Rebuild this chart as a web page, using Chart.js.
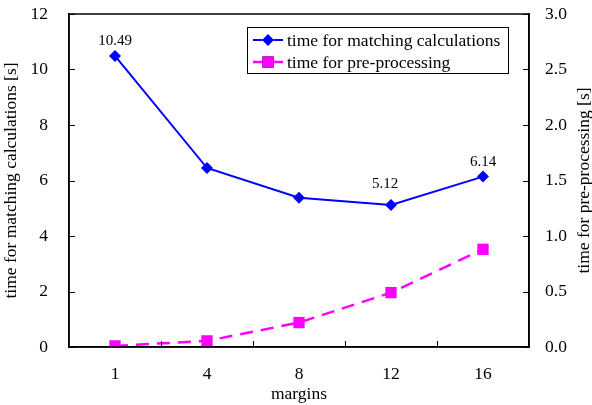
<!DOCTYPE html>
<html>
<head>
<meta charset="utf-8">
<title>margins</title>
<script src="https://cdn.jsdelivr.net/npm/chart.js@4.4.1/dist/chart.umd.min.js"></script>
<style>
  html, body { margin: 0; padding: 0; background: #fff; }
  .chart-wrapper { position: relative; width: 592px; height: 405px; }
</style>
</head>
<body>
<div class="chart-wrapper">
  <canvas id="myChart"></canvas>
</div>
<script>
// data
const margins = ['1', '4', '8', '12', '16'];
const matchTime = [10.49, 6.45, 5.38, 5.12, 6.14];
const preTime = [0.01, 0.055, 0.22, 0.49, 0.88];
const labelled = [true, false, false, true, true]; // points with value text
const rightTitle = 'time for pre-processing [s]';

const SERIF = '"Liberation Serif", "Times New Roman", serif';
const FS = 17.5;

// frame, inner tick marks, value labels, right title and the boxed legend
const extras = {
  id: 'extras',
  afterDraw(chart) {
    const ctx = chart.ctx;
    const a = chart.chartArea;
    ctx.save();
    ctx.strokeStyle = '#000';
    ctx.lineWidth = 1.5;
    ctx.strokeRect(a.left, a.top, a.right - a.left, a.bottom - a.top);

    ctx.lineWidth = 1;
    const tl = 6;
    const y = chart.scales.y, y1 = chart.scales.y1;
    ctx.beginPath();
    y.ticks.forEach((t, i) => {
      const p = Math.round(y.getPixelForTick(i)) + 0.5;
      ctx.moveTo(a.left, p); ctx.lineTo(a.left + tl, p);
    });
    y1.ticks.forEach((t, i) => {
      const p = Math.round(y1.getPixelForTick(i)) + 0.5;
      ctx.moveTo(a.right, p); ctx.lineTo(a.right - tl, p);
    });
    // category boundaries on the x axis
    const step = (a.right - a.left) / margins.length;
    for (let i = 1; i < margins.length; i++) {
      const p = Math.round(a.left + step * i) + 0.5;
      ctx.moveTo(p, a.bottom); ctx.lineTo(p, a.bottom - tl);
    }
    ctx.stroke();

    // right axis title, reading bottom to top
    ctx.fillStyle = '#000';
    ctx.font = FS + 'px ' + SERIF;
    ctx.textAlign = 'center';
    ctx.textBaseline = 'middle';
    ctx.save();
    ctx.translate(chart.width - 8, (a.top + a.bottom) / 2);
    ctx.rotate(-Math.PI / 2);
    ctx.fillText(rightTitle, 0, 0);
    ctx.restore();

    // value labels
    ctx.font = '15px ' + SERIF;
    ctx.textBaseline = 'bottom';
    const meta = chart.getDatasetMeta(0);
    meta.data.forEach((pt, i) => {
      if (!labelled[i]) return;
      const dx = (i === 3) ? -6 : 0;
      const dy = (i === 3) ? 13 : 7;
      ctx.fillText(matchTime[i].toFixed(2), pt.x + dx, pt.y - dy);
    });

    // legend box
    const lx = 247, ly = 27, lw = 261, lh = 46;
    ctx.fillStyle = '#fff';
    ctx.fillRect(lx, ly, lw, lh);
    ctx.strokeStyle = '#000';
    ctx.lineWidth = 1;
    ctx.strokeRect(lx + 0.5, ly + 0.5, lw, lh);
    ctx.font = FS + 'px ' + SERIF;
    ctx.textAlign = 'left';
    ctx.textBaseline = 'middle';
    chart.data.datasets.forEach((ds, i) => {
      const cy = ly + 13 + i * 22;
      ctx.strokeStyle = ds.borderColor;
      ctx.lineWidth = ds.borderWidth;
      ctx.setLineDash(ds.borderDash || []);
      ctx.beginPath();
      ctx.moveTo(lx + 6, cy); ctx.lineTo(lx + 36, cy);
      ctx.stroke();
      ctx.setLineDash([]);
      Chart.helpers.drawPoint(ctx, {
        pointStyle: ds.pointStyle, radius: ds.pointRadius, rotation: 0, borderWidth: 0
      }, lx + 21, cy);
      ctx.fillStyle = ds.pointBackgroundColor;
      ctx.fill();
      ctx.fillStyle = '#000';
      ctx.fillText(ds.label, lx + 40, cy + 1);
    });
    ctx.restore();
  }
};

const ctx = document.getElementById('myChart');
const myChart = new Chart(ctx, {
  type: 'line',
  data: {
    labels: margins,
    datasets: [
      {
        label: 'time for matching calculations',
        data: matchTime,
        yAxisID: 'y',
        borderColor: '#0000ff',
        backgroundColor: '#0000ff',
        pointBackgroundColor: '#0000ff',
        pointBorderColor: '#0000ff',
        borderWidth: 2,
        pointStyle: 'rectRot',
        pointRadius: 6,
        pointBorderWidth: 0,
        tension: 0
      },
      {
        label: 'time for pre-processing',
        data: preTime,
        yAxisID: 'y1',
        borderColor: '#ff00ff',
        backgroundColor: '#ff00ff',
        pointBackgroundColor: '#ff00ff',
        pointBorderColor: '#ff00ff',
        borderWidth: 2.5,
        borderDash: [13, 8],
        pointStyle: 'rect',
        pointRadius: 8,
        pointBorderWidth: 0,
        tension: 0
      }
    ]
  },
  options: {
    responsive: true,
    maintainAspectRatio: false,
    animation: false,
    layout: { padding: { top: 14, right: 0, left: 0, bottom: 0 } },
    plugins: {
      legend: { display: false },
      tooltip: { enabled: false }
    },
    scales: {
      x: {
        offset: true,
        grid: { display: false },
        border: { display: true, color: '#000', width: 1.5 },
        ticks: { color: '#000', font: { family: SERIF, size: FS }, padding: 9, maxRotation: 0 },
        title: { display: true, text: 'margins', color: '#000', font: { family: SERIF, size: FS }, padding: { top: 0, bottom: 0 } },
        afterFit: s => { s.height = 58; s.paddingLeft = 0; s.paddingRight = 0; }
      },
      y: {
        position: 'left',
        min: 0, max: 12,
        grid: { display: false },
        border: { display: true, color: '#000', width: 1.5 },
        ticks: { stepSize: 2, color: '#000', font: { family: SERIF, size: FS }, padding: 13 },
        title: { display: true, text: 'time for matching calculations [s]', color: '#000', font: { family: SERIF, size: FS }, padding: { top: 1, bottom: 0 } },
        afterFit: s => { s.width = 69; s.paddingTop = 0; s.paddingBottom = 0; }
      },
      y1: {
        position: 'right',
        min: 0, max: 3,
        grid: { display: false },
        border: { display: true, color: '#000', width: 1.5 },
        ticks: { stepSize: 0.5, color: '#000', font: { family: SERIF, size: FS }, padding: 8,
          callback: v => Number(v).toFixed(1) },
        afterFit: s => { s.width = 63; s.paddingTop = 0; s.paddingBottom = 0; }
      }
    }
  },
  plugins: [extras]
});
</script>
</body>
</html>
